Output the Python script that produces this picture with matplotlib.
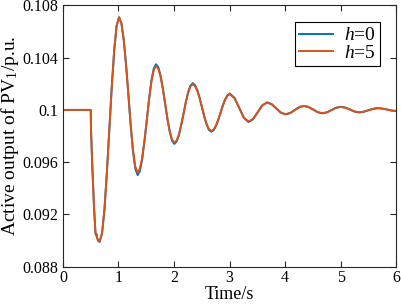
import matplotlib
matplotlib.use("Agg")
import matplotlib.pyplot as plt

plt.rcParams['font.family'] = ['Liberation Serif', 'DejaVu Serif']
plt.rcParams['mathtext.fontset'] = 'custom'
plt.rcParams['mathtext.rm'] = 'Liberation Serif'
plt.rcParams['mathtext.it'] = 'Liberation Serif:italic'

# time axis (s)
time_s = [0, 0.5, 0.505, 0.53, 0.56, 0.585, 0.595, 0.603, 0.615, 0.64, 0.66,
          0.704, 0.748, 0.791, 0.835, 0.879, 0.923, 0.966, 1.01,
          1.052, 1.094, 1.136, 1.178, 1.219, 1.261, 1.303, 1.345,
          1.386, 1.428, 1.469, 1.511, 1.552, 1.593, 1.635, 1.676,
          1.717, 1.759, 1.8, 1.841, 1.882, 1.924, 1.965, 2.006,
          2.047, 2.089, 2.13, 2.172, 2.213, 2.254, 2.296, 2.337,
          2.379, 2.42, 2.462, 2.504, 2.545, 2.587, 2.628, 2.67,
          2.712, 2.754, 2.796, 2.838, 2.879, 2.921, 2.963, 3.005,
          3.089, 3.173, 3.256, 3.34, 3.424, 3.508, 3.591, 3.675,
          3.758, 3.84, 3.923, 4.005, 4.089, 4.173, 4.256, 4.34,
          4.423, 4.505, 4.588, 4.67, 4.753, 4.835, 4.918, 5.0,
          5.084, 5.168, 5.251, 5.335, 5.419, 5.503, 5.586, 5.67,
          5.753, 5.835, 5.918, 6.0]

# active output of PV1, h = 5
p_h5 = [0.1, 0.1, 0.0985, 0.0955, 0.0925, 0.0906, 0.0904, 0.0905, 0.0902, 0.08995, 0.0899,
        0.09056, 0.09242, 0.09521, 0.0985, 0.10179, 0.10458, 0.10645, 0.1071,
        0.10665, 0.10536, 0.10343, 0.10115, 0.09887, 0.09694, 0.09565, 0.0952,
        0.09551, 0.0964, 0.09772, 0.09929, 0.10085, 0.10217, 0.10306, 0.10337,
        0.10315, 0.10251, 0.10156, 0.10044, 0.09931, 0.09836, 0.09772, 0.0975,
        0.09767, 0.09815, 0.09888, 0.09974, 0.10059, 0.10132, 0.1018, 0.10197,
        0.10183, 0.10145, 0.10087, 0.10018, 0.0995, 0.09891, 0.09853, 0.09839,
        0.0985, 0.0988, 0.09926, 0.0998, 0.10033, 0.10079, 0.10109, 0.1012,
        0.10089, 0.10016, 0.09942, 0.09911, 0.09932, 0.09984, 0.10035, 0.10056,
        0.10043, 0.10012, 0.0998, 0.09967, 0.09976, 0.09999, 0.10021, 0.1003,
        0.10022, 0.10003, 0.09983, 0.09975, 0.09982, 0.09999, 0.10016, 0.10023,
        0.10017, 0.10003, 0.09988, 0.09982, 0.09987, 0.09998, 0.10008, 0.10013,
        0.1001, 0.10003, 0.09995, 0.09992]

# active output of PV1, h = 0
p_h0 = [0.1, 0.1, 0.0985, 0.0955, 0.0925, 0.0906, 0.0904, 0.0905, 0.0902, 0.08995, 0.0899,
        0.09056, 0.09242, 0.09521, 0.0985, 0.10179, 0.10458, 0.10645, 0.1071,
        0.10665, 0.10541, 0.1035, 0.10118, 0.09884, 0.09683, 0.09548, 0.09501,
        0.09533, 0.09626, 0.09763, 0.09926, 0.10088, 0.10226, 0.10318, 0.1035,
        0.10328, 0.10261, 0.10162, 0.10046, 0.09928, 0.09829, 0.09763, 0.0974,
        0.09758, 0.09808, 0.09884, 0.09973, 0.10061, 0.10137, 0.10187, 0.10205,
        0.1019, 0.10151, 0.10091, 0.10019, 0.09948, 0.09887, 0.09847, 0.09833,
        0.09844, 0.09875, 0.09923, 0.09979, 0.10034, 0.10082, 0.10113, 0.10125,
        0.10093, 0.10017, 0.0994, 0.09907, 0.09929, 0.09983, 0.10036, 0.10058,
        0.10045, 0.10012, 0.09979, 0.09966, 0.09975, 0.09999, 0.10022, 0.10031,
        0.10023, 0.10003, 0.09982, 0.09974, 0.09981, 0.09999, 0.10017, 0.10024,
        0.10018, 0.10003, 0.09987, 0.09981, 0.09986, 0.09998, 0.10009, 0.10014,
        0.1001, 0.10003, 0.09995, 0.09992]

x_ticks = [0, 1, 2, 3, 4, 5, 6]
y_ticks = [0.088, 0.092, 0.096, 0.1, 0.104, 0.108]
y_tick_labels = ['0.088', '0.092', '0.096', '0.1', '0.104', '0.108']

fig = plt.figure(figsize=(4.01, 3.04), dpi=100)
ax = fig.add_axes([0.157, 0.123, 0.831, 0.859])

ax.plot(time_s, p_h0, color='#0072BD', lw=1.4, label=r'$h$=0')
ax.plot(time_s, p_h5, color='#D95319', lw=1.4, label=r'$h$=5')

ax.set_xlim(0, 6)
ax.set_ylim(0.088, 0.108)
ax.set_xticks(x_ticks)
ax.set_yticks(y_ticks)
ax.set_yticklabels(y_tick_labels)
ax.tick_params(direction='in', top=True, right=True, length=4, width=0.8,
               labelsize=11.5, colors='#262626', labelcolor='black')
ax.tick_params(axis='x', pad=2.5)
for s in ax.spines.values():
    s.set_color('#262626')
    s.set_linewidth(0.8)

ax.set_xlabel('Time/s', fontsize=13, labelpad=0)
ax.set_ylabel(r'Active output of PV$_1$/p.u.', fontsize=14, labelpad=1)

leg = ax.legend(loc='upper right', bbox_to_anchor=(0.952, 0.935), borderaxespad=0,
                fontsize=14, fancybox=False, edgecolor='black', framealpha=1,
                handlelength=1.7, borderpad=0.22, labelspacing=0.0, handletextpad=0.6)
leg.get_frame().set_linewidth(0.8)

fig.savefig('out.png', dpi=100)
